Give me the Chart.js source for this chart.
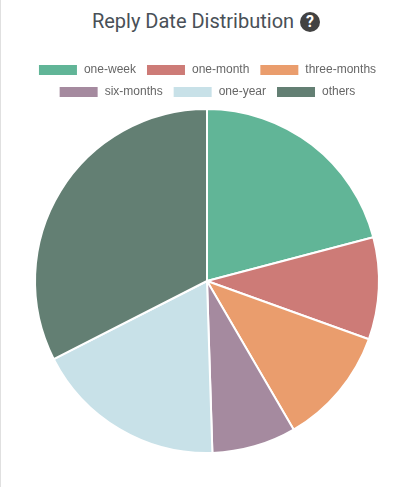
<!DOCTYPE html>
<html><head><meta charset="utf-8">
<style>
html,body{margin:0;padding:0;background:#fff;width:408px;height:487px;overflow:hidden}
#edge{position:absolute;left:0;top:0;width:1px;height:487px;background:#e0e0e0}
#title{position:absolute;left:0;top:7px;width:412px;text-align:center;font:20px Roboto,sans-serif;color:#495057;line-height:28px;white-space:nowrap}
#q{display:inline-block;width:20px;height:20px;border-radius:50%;background:#424242;color:#fff;font:bold 16px/20px Roboto,sans-serif;text-align:center;vertical-align:1px;margin-left:1px}
#wrap{position:absolute;left:5px;top:54px;width:404px;height:400px}
</style></head><body>
<div id="edge"></div>
<div id="title">Reply Date Distribution <span id="q">?</span></div>
<div id="wrap"><canvas id="c" width="404" height="400"></canvas></div>
<script src="https://cdn.jsdelivr.net/npm/chart.js@4"></script>
<script>
const categories=["one-week","one-month","three-months","six-months","one-year","others"];
const values=[20.9,9.6,11.1,7.9,18.0,32.5];
const colors=["#61b597","#cd7b77","#ea9d6d","#a58a9f","#c8e1e8","#637f73"];
new Chart(document.getElementById('c'),{type:'pie',
 data:{labels:categories,datasets:[{data:values,backgroundColor:colors,borderColor:'#fff',borderWidth:2}]},
 options:{responsive:false,animation:false,
  plugins:{tooltip:{enabled:false},
   legend:{display:true,position:'top',labels:{boxWidth:40,font:{family:'"Liberation Sans"',size:12},color:'#666',padding:10}}}}});
</script></body></html>
